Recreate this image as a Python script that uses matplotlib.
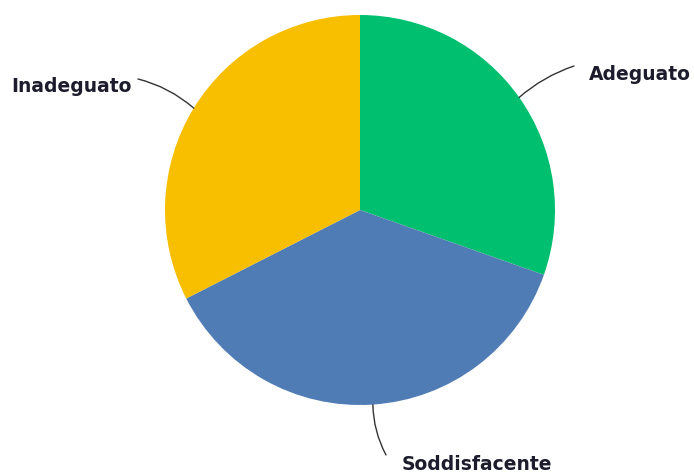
import matplotlib

matplotlib.use("Agg")
import matplotlib.pyplot as plt
import numpy as np

# slices go clockwise from 12 o'clock
labels = ["Adeguato", "Soddisfacente", "Inadeguato"]
shares = [30.4, 37.1, 32.5]
colors = ["#00bf6f", "#507cb6", "#f8be00"]

# label text anchor, leader end point (pixel coords, y from top), curve bend
label_pos = [(589, 74), (402, 465), (11, 87)]
leader_end = [(574, 66), (386, 455), (138, 79)]
bends = [-0.1, 0.12, 0.12]

W, H = 694, 475
CX, CY, R = 360, 210, 195

fig = plt.figure(figsize=(W / 100, H / 100), dpi=100)
ax = fig.add_axes([0, 0, 1, 1])

wedges, _ = ax.pie(
    shares,
    colors=colors,
    startangle=90,
    counterclock=False,
    center=(CX, H - CY),
    radius=R,
    wedgeprops={"linewidth": 0},
)
ax.set_xlim(0, W)
ax.set_ylim(0, H)
ax.set_aspect("equal")
ax.axis("off")

for wedge, label, (tx, ty), (ex, ey), rad in zip(wedges, labels, label_pos, leader_end, bends):
    mid = np.deg2rad((wedge.theta1 + wedge.theta2) / 2)
    px = CX + R * np.cos(mid)
    py = H - CY + R * np.sin(mid)
    ax.annotate(
        "",
        xy=(ex, H - ey),
        xytext=(px, py),
        arrowprops=dict(
            arrowstyle="-",
            color="#333333",
            lw=1.0,
            shrinkA=0,
            shrinkB=0,
            connectionstyle=f"arc3,rad={rad}",
        ),
    )
    ax.text(tx, H - ty, label, ha="left", va="center", fontsize=13.5,
            fontweight="bold", family="DejaVu Sans", color="#1c1c2c")

fig.savefig("out.png", dpi=100)
